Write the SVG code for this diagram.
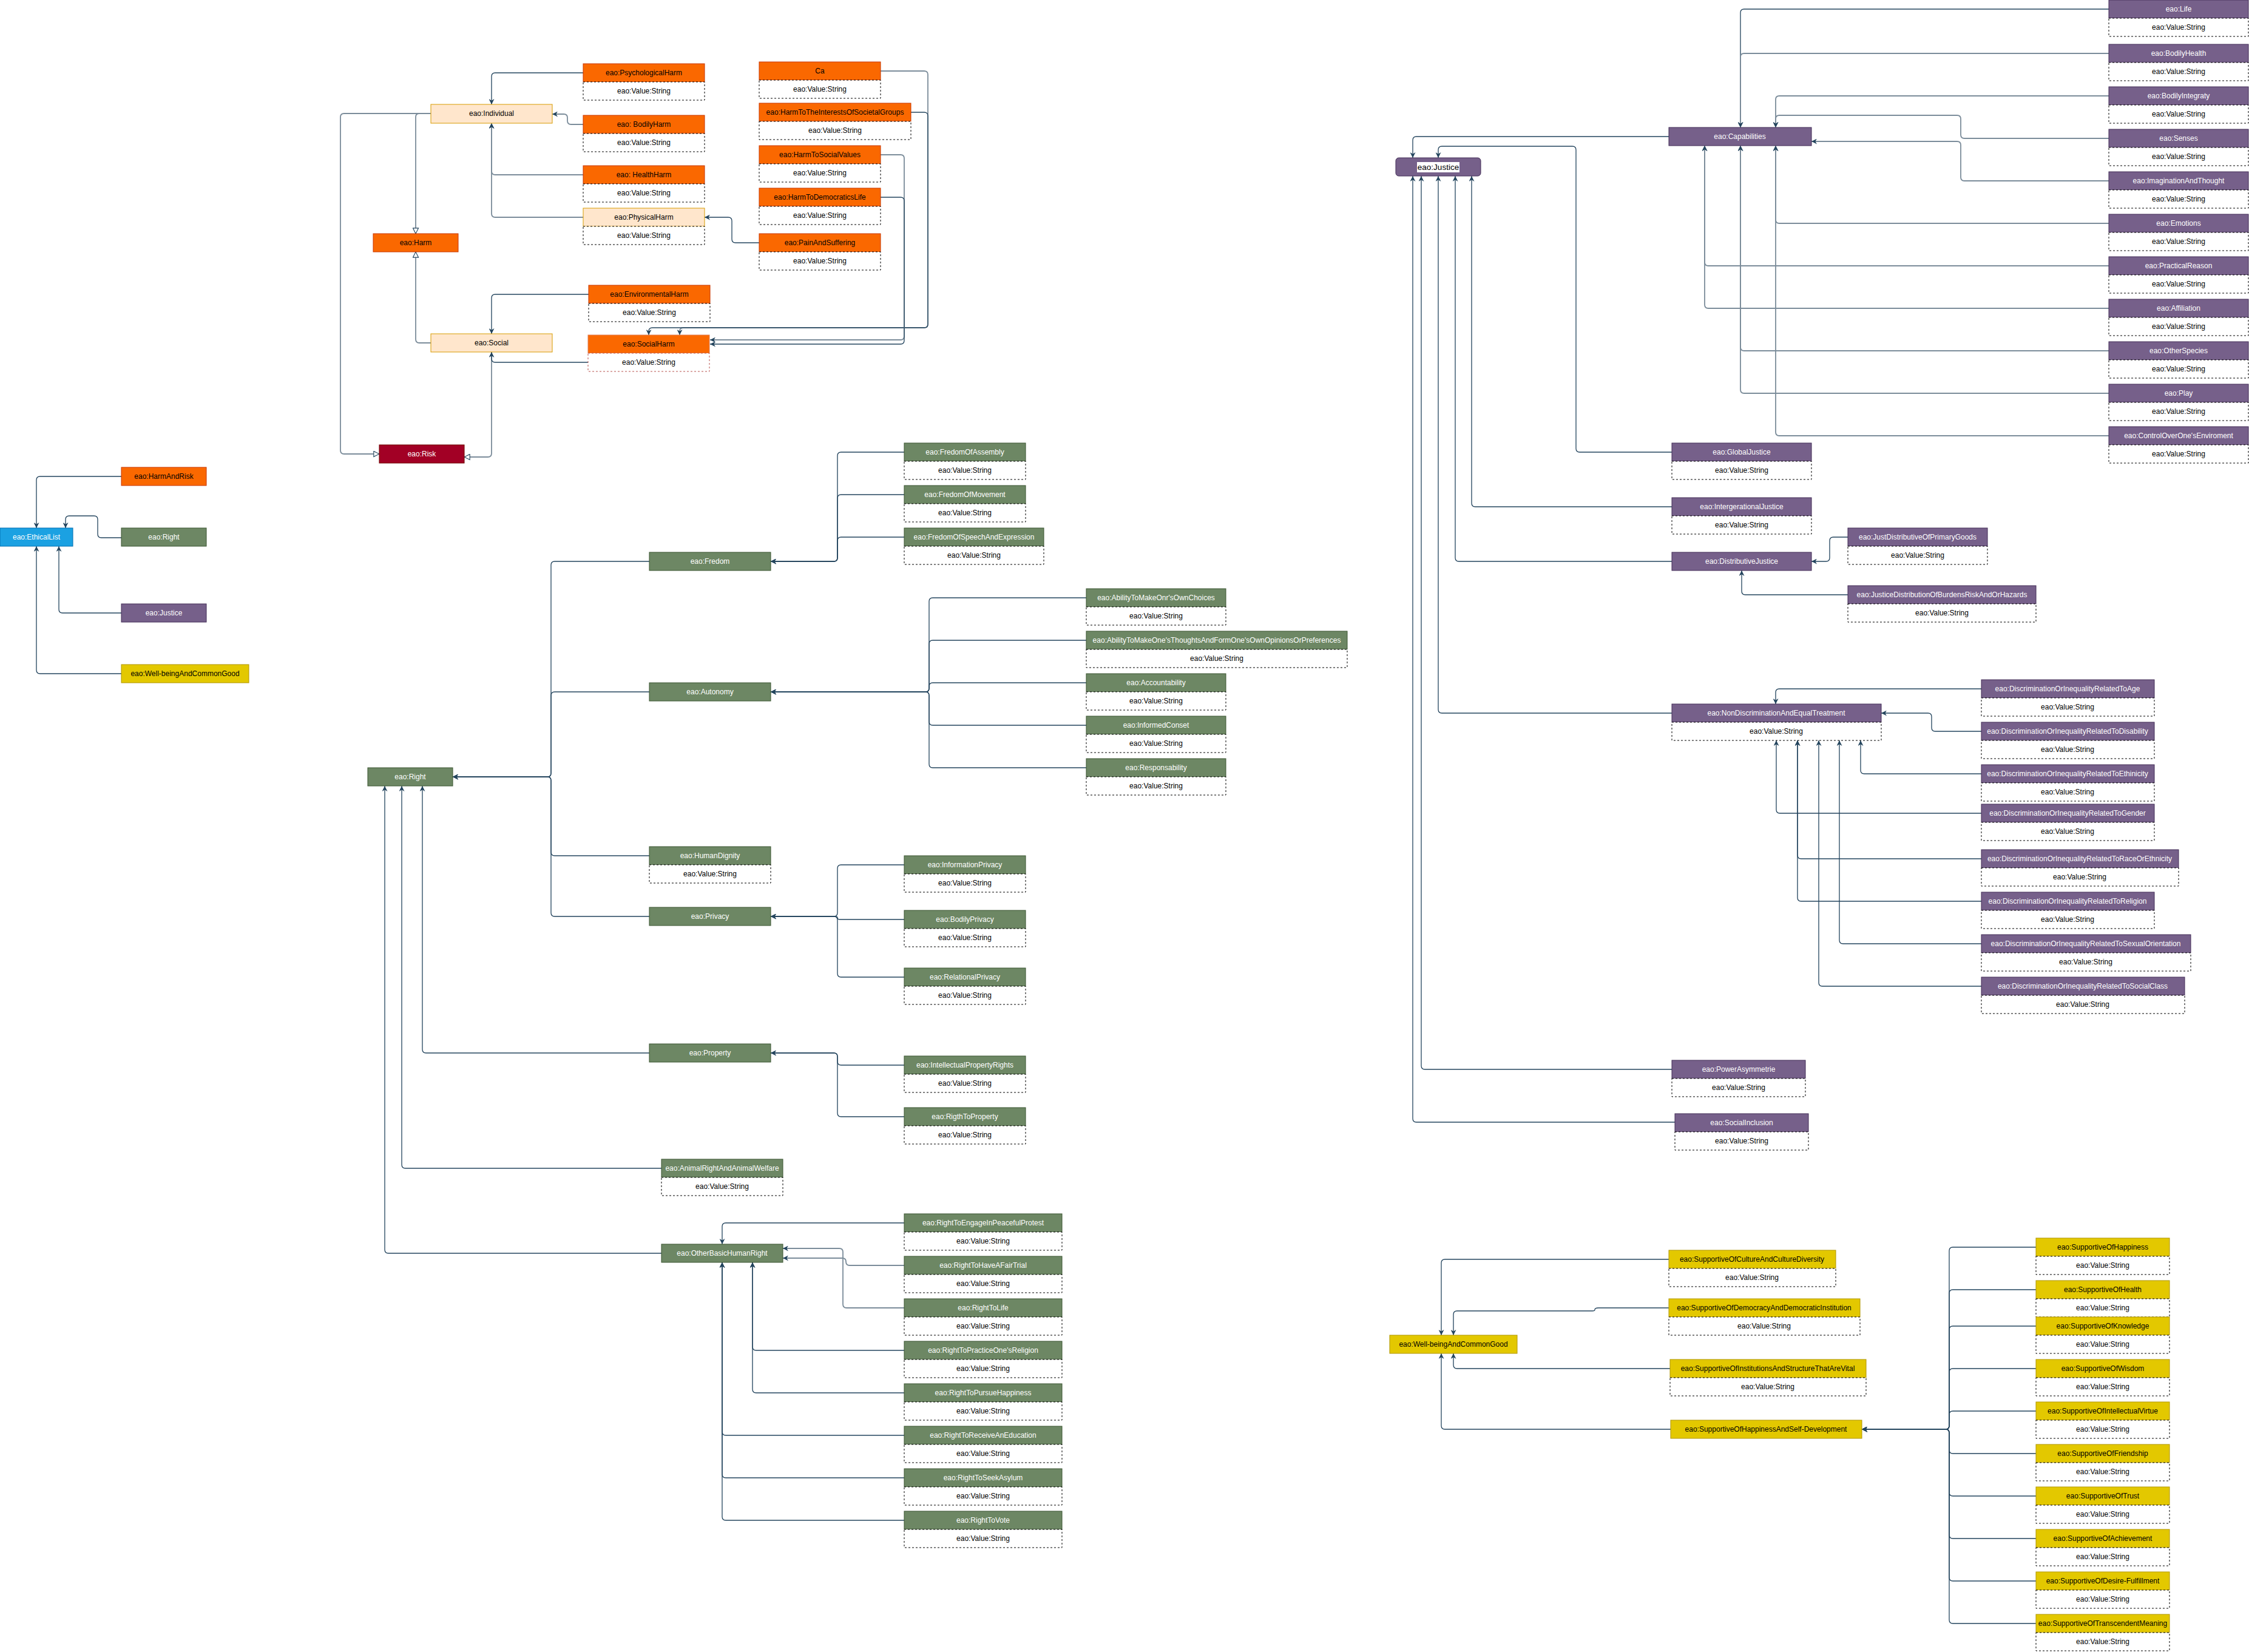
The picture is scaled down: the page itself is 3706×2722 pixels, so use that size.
<svg xmlns="http://www.w3.org/2000/svg" width="3706" height="2722" viewBox="0 0 3706 2722">
<style>
text{font-family:"Liberation Sans",Arial,sans-serif;font-size:12px;text-anchor:middle}
.tw{fill:#ffffff}.tb{fill:#000000}
.or{fill:#fa6800;stroke:#c73500}
.pe{fill:#ffe6cc;stroke:#d79b00}
.gr{fill:#6d8764;stroke:#3a5431}
.pu{fill:#76608a;stroke:#432d57}
.ye{fill:#e3c800;stroke:#b09500}
.bl{fill:#1ba1e2;stroke:#006eaf}
.rd{fill:#a20025;stroke:#6f0000}
.v{fill:#ffffff;stroke:#000000;stroke-dasharray:3 3}
.vr{fill:#ffffff;stroke:#b85450;stroke-dasharray:3 3}
.d{fill:none;stroke:#23445d;stroke-width:1.3;marker-end:url(#a)}
.l{fill:none;stroke:#7b8c9a;stroke-width:1.8;marker-end:url(#a)}
.dt{fill:none;stroke:#23445d;stroke-width:1.3;marker-end:url(#t)}
.lt{fill:none;stroke:#7b8c9a;stroke-width:1.8;marker-end:url(#t)}
</style>
<defs>
<marker id="a" viewBox="0 0 10 10" refX="10" refY="5" markerWidth="9" markerHeight="9" markerUnits="userSpaceOnUse" orient="auto"><path d="M0,0 L10,5 L0,10 L3,5 z" fill="#23445d"/></marker>
<marker id="t" viewBox="0 0 12 12" refX="11" refY="6" markerWidth="11" markerHeight="11" markerUnits="userSpaceOnUse" orient="auto"><path d="M1,1 L11,6 L1,11 z" fill="#ffffff" stroke="#23445d" stroke-width="1.2"/></marker>
</defs>
<rect width="3706" height="2722" fill="#ffffff"/>

<g id="connectors">
<!-- Harm cluster -->
<path class="d" d="M961,120 H816 Q810,120 810,126 V172"/>
<path class="l" d="M961,205 H941 Q935,205 935,199 V194 Q935,188 929,188 H910"/>
<path class="l" d="M961,288 H816 Q810,288 810,282 V203"/>
<path class="l" d="M961,358 H816 Q810,358 810,352 V203"/>
<path class="d" d="M1251,400 H1212 Q1206,400 1206,394 V364 Q1206,358 1200,358 H1161"/>
<path class="lt" d="M710,187 H691 Q685,187 685,193 V385"/>
<path class="lt" d="M710,565 H691 Q685,565 685,559 V415"/>
<path class="lt" d="M710,187 H567 Q561,187 561,193 V742 Q561,748 567,748 H625"/>
<path class="lt" d="M810,580 V747 Q810,753 804,753 H765"/>
<path class="d" d="M969,597 H816 Q810,597 810,591 V580"/>
<path class="d" d="M970,485 H816 Q810,485 810,491 V550"/>
<path class="l" d="M1451,117 H1523 Q1529,117 1529,123 V534 Q1529,540 1523,540 H1126 Q1120,540 1120,546 V552"/>
<path class="d" d="M1500,185 H1523 Q1529,185 1529,191 V534 Q1529,540 1523,540 H1075 Q1069,540 1069,546 V552"/>
<path class="l" d="M1451,255 H1484 Q1490,255 1490,261 V554 Q1490,560 1484,560 H1170"/>
<path class="d" d="M1451,325 H1484 Q1490,325 1490,331 V561 Q1490,567 1484,567 H1170"/>
<!-- EthicalList -->
<path class="d" d="M200,785 H66 Q60,785 60,791 V870"/>
<path class="d" d="M200,886 H167 Q161,886 161,880 V856 Q161,850 155,850 H114 Q108,850 108,856 V870"/>
<path class="d" d="M200,1010 H103 Q97,1010 97,1004 V900"/>
<path class="d" d="M200,1110 H66 Q60,1110 60,1104 V900"/>
<!-- Fredom -->
<path class="d" d="M1490,745 H1386 Q1380,745 1380,751 V919 Q1380,925 1374,925 H1270"/>
<path class="d" d="M1490,815 H1386 Q1380,815 1380,821 V919 Q1380,925 1374,925 H1270"/>
<path class="d" d="M1490,885 H1386 Q1380,885 1380,891 V919 Q1380,925 1374,925 H1270"/>
<!-- Autonomy -->
<path class="d" d="M1790,985 H1537 Q1531,985 1531,991 V1134 Q1531,1140 1525,1140 H1270"/>
<path class="d" d="M1790,1055 H1537 Q1531,1055 1531,1061 V1134 Q1531,1140 1525,1140 H1270"/>
<path class="d" d="M1790,1125 H1537 Q1531,1125 1531,1131 V1134 Q1531,1140 1525,1140 H1270"/>
<path class="d" d="M1790,1195 H1537 Q1531,1195 1531,1189 V1146 Q1531,1140 1525,1140 H1270"/>
<path class="d" d="M1790,1265 H1537 Q1531,1265 1531,1259 V1146 Q1531,1140 1525,1140 H1270"/>
<!-- Right children -->
<path class="d" d="M1070,925 H914 Q908,925 908,931 V1274 Q908,1280 902,1280 H746"/>
<path class="d" d="M1070,1140 H914 Q908,1140 908,1146 V1274 Q908,1280 902,1280 H746"/>
<path class="d" d="M1070,1410 H914 Q908,1410 908,1404 V1286 Q908,1280 902,1280 H746"/>
<path class="d" d="M1070,1510 H914 Q908,1510 908,1504 V1286 Q908,1280 902,1280 H746"/>
<path class="d" d="M1070,1735 H702 Q696,1735 696,1729 V1295"/>
<path class="d" d="M1090,1925 H668 Q662,1925 662,1919 V1295"/>
<path class="d" d="M1090,2065 H640 Q634,2065 634,2059 V1295"/>
<!-- Privacy -->
<path class="d" d="M1490,1425 H1386 Q1380,1425 1380,1431 V1504 Q1380,1510 1374,1510 H1270"/>
<path class="d" d="M1490,1515 H1384 Q1380,1515 1380,1512 Q1380,1510 1376,1510 H1270"/>
<path class="d" d="M1490,1610 H1386 Q1380,1610 1380,1604 V1516 Q1380,1510 1374,1510 H1270"/>
<!-- Property -->
<path class="d" d="M1490,1755 H1386 Q1380,1755 1380,1749 V1741 Q1380,1735 1374,1735 H1270"/>
<path class="d" d="M1490,1840 H1386 Q1380,1840 1380,1834 V1741 Q1380,1735 1374,1735 H1270"/>
<!-- OtherBasicHumanRight -->
<path class="d" d="M1490,2015 H1196 Q1190,2015 1190,2021 V2050"/>
<path class="l" d="M1490,2085 H1400 Q1394,2085 1394,2079 Q1394,2073 1388,2073 H1290"/>
<path class="l" d="M1490,2155 H1395 Q1389,2155 1389,2149 V2063 Q1389,2057 1383,2057 H1290"/>
<path class="d" d="M1490,2225 H1246 Q1240,2225 1240,2219 V2080"/>
<path class="d" d="M1490,2295 H1246 Q1240,2295 1240,2289 V2080"/>
<path class="d" d="M1490,2365 H1196 Q1190,2365 1190,2359 V2080"/>
<path class="d" d="M1490,2435 H1196 Q1190,2435 1190,2429 V2080"/>
<path class="d" d="M1490,2505 H1196 Q1190,2505 1190,2499 V2080"/>
<!-- Capabilities -->
<path class="d" d="M3475,15 H2874 Q2868,15 2868,21 V210"/>
<path class="l" d="M3475,88 H2874 Q2868,88 2868,94 V210"/>
<path class="l" d="M3475,158 H2932 Q2926,158 2926,164 V210"/>
<path class="l" d="M3475,228 H3237 Q3231,228 3231,222 V196 Q3231,190 3225,190 H2932 Q2926,190 2926,196 V210"/>
<path class="l" d="M3475,298 H3237 Q3231,298 3231,292 V239 Q3231,233 3225,233 H2985"/>
<path class="l" d="M3475,368 H2932 Q2926,368 2926,362 V240"/>
<path class="l" d="M3475,438 H2815 Q2809,438 2809,432 V240"/>
<path class="l" d="M3475,508 H2815 Q2809,508 2809,502 V240"/>
<path class="l" d="M3475,578 H2874 Q2868,578 2868,572 V240"/>
<path class="l" d="M3475,648 H2874 Q2868,648 2868,642 V240"/>
<path class="l" d="M3475,718 H2932 Q2926,718 2926,712 V240"/>
<!-- Justice -->
<path class="d" d="M2750,225 H2334 Q2328,225 2328,231 V260"/>
<path class="d" d="M2755,745 H2603 Q2597,745 2597,739 V247 Q2597,241 2591,241 H2376 Q2370,241 2370,247 V260"/>
<path class="d" d="M2755,835 H2431 Q2425,835 2425,829 V290"/>
<path class="d" d="M2755,925 H2404 Q2398,925 2398,919 V290"/>
<path class="d" d="M2755,1175 H2376 Q2370,1175 2370,1169 V290"/>
<path class="d" d="M2755,1762 H2348 Q2342,1762 2342,1756 V290"/>
<path class="d" d="M2760,1849 H2334 Q2328,1849 2328,1843 V290"/>
<path class="d" d="M3045,885 H3021 Q3015,885 3015,891 V919 Q3015,925 3009,925 H2985"/>
<path class="d" d="M3045,980 H2876 Q2870,980 2870,974 V940"/>
<!-- NonDiscrimination -->
<path class="d" d="M3265,1135 H2932 Q2926,1135 2926,1141 V1160"/>
<path class="d" d="M3265,1205 H3189 Q3183,1205 3183,1199 V1181 Q3183,1175 3177,1175 H3100"/>
<path class="d" d="M3265,1275 H3072 Q3066,1275 3066,1269 V1220"/>
<path class="d" d="M3265,1340 H2933 Q2927,1340 2927,1334 V1220"/>
<path class="d" d="M3265,1415 H2968 Q2962,1415 2962,1409 V1220"/>
<path class="d" d="M3265,1485 H2968 Q2962,1485 2962,1479 V1220"/>
<path class="d" d="M3265,1555 H3037 Q3031,1555 3031,1549 V1220"/>
<path class="d" d="M3265,1625 H3003 Q2997,1625 2997,1619 V1220"/>
<!-- Wellbeing -->
<path class="d" d="M2750,2075 H2381 Q2375,2075 2375,2081 V2200"/>
<path class="d" d="M2750,2155 H2634 Q2628,2155 2628,2158 Q2628,2160 2624,2160 H2401 Q2395,2160 2395,2166 V2200"/>
<path class="d" d="M2752,2255 H2401 Q2395,2255 2395,2249 V2230"/>
<path class="d" d="M2753,2355 H2381 Q2375,2355 2375,2349 V2230"/>
<path class="d" d="M3355,2055 H3218 Q3212,2055 3212,2061 V2349 Q3212,2355 3206,2355 H3068"/>
<path class="d" d="M3355,2125 H3218 Q3212,2125 3212,2131 V2349 Q3212,2355 3206,2355 H3068"/>
<path class="d" d="M3355,2185 H3218 Q3212,2185 3212,2191 V2349 Q3212,2355 3206,2355 H3068"/>
<path class="d" d="M3355,2255 H3218 Q3212,2255 3212,2261 V2349 Q3212,2355 3206,2355 H3068"/>
<path class="d" d="M3355,2325 H3218 Q3212,2325 3212,2331 V2349 Q3212,2355 3206,2355 H3068"/>
<path class="d" d="M3355,2395 H3218 Q3212,2395 3212,2389 V2361 Q3212,2355 3206,2355 H3068"/>
<path class="d" d="M3355,2465 H3218 Q3212,2465 3212,2459 V2361 Q3212,2355 3206,2355 H3068"/>
<path class="d" d="M3355,2535 H3218 Q3212,2535 3212,2529 V2361 Q3212,2355 3206,2355 H3068"/>
<path class="d" d="M3355,2605 H3218 Q3212,2605 3212,2599 V2361 Q3212,2355 3206,2355 H3068"/>
<path class="d" d="M3355,2675 H3218 Q3212,2675 3212,2669 V2361 Q3212,2355 3206,2355 H3068"/>
</g>

<!-- Harm cluster nodes -->
<g id="n-psychologicalharm"><rect class="or" x="961" y="105" width="200" height="30"/><text class="tb" x="1061" y="124">eao:PsychologicalHarm</text><rect class="v" x="961" y="135" width="200" height="30"/><text class="tb" x="1061" y="154">eao:Value:String</text></g>
<g id="n-individual"><rect class="pe" x="710" y="172" width="200" height="31"/><text class="tb" x="810" y="191">eao:Individual</text></g>
<g id="n-bodilyharm"><rect class="or" x="961" y="190" width="200" height="30"/><text class="tb" x="1061" y="209">eao: BodilyHarm</text><rect class="v" x="961" y="220" width="200" height="30"/><text class="tb" x="1061" y="239">eao:Value:String</text></g>
<g id="n-healthharm"><rect class="or" x="961" y="273" width="200" height="30"/><text class="tb" x="1061" y="292">eao: HealthHarm</text><rect class="v" x="961" y="303" width="200" height="30"/><text class="tb" x="1061" y="322">eao:Value:String</text></g>
<g id="n-physicalharm"><rect class="pe" x="961" y="343" width="200" height="30"/><text class="tb" x="1061" y="362">eao:PhysicalHarm</text><rect class="v" x="961" y="373" width="200" height="30"/><text class="tb" x="1061" y="392">eao:Value:String</text></g>
<g id="n-ca"><rect class="or" x="1251" y="102" width="200" height="30"/><text class="tb" x="1351" y="121">Ca</text><rect class="v" x="1251" y="132" width="200" height="30"/><text class="tb" x="1351" y="151">eao:Value:String</text></g>
<g id="n-harmtotheinterestsofsocietalgroups"><rect class="or" x="1251" y="170" width="250" height="30"/><text class="tb" x="1376" y="189">eao:HarmToTheInterestsOfSocietalGroups</text><rect class="v" x="1251" y="200" width="250" height="30"/><text class="tb" x="1376" y="219">eao:Value:String</text></g>
<g id="n-harmtosocialvalues"><rect class="or" x="1251" y="240" width="200" height="30"/><text class="tb" x="1351" y="259">eao:HarmToSocialValues</text><rect class="v" x="1251" y="270" width="200" height="30"/><text class="tb" x="1351" y="289">eao:Value:String</text></g>
<g id="n-harmtodemocraticslife"><rect class="or" x="1251" y="310" width="200" height="30"/><text class="tb" x="1351" y="329">eao:HarmToDemocraticsLife</text><rect class="v" x="1251" y="340" width="200" height="30"/><text class="tb" x="1351" y="359">eao:Value:String</text></g>
<g id="n-painandsuffering"><rect class="or" x="1251" y="385" width="200" height="30"/><text class="tb" x="1351" y="404">eao:PainAndSuffering</text><rect class="v" x="1251" y="415" width="200" height="30"/><text class="tb" x="1351" y="434">eao:Value:String</text></g>
<g id="n-harm"><rect class="or" x="615" y="385" width="140" height="30"/><text class="tb" x="685" y="404">eao:Harm</text></g>
<g id="n-environmentalharm"><rect class="or" x="970" y="470" width="200" height="30"/><text class="tb" x="1070" y="489">eao:EnvironmentalHarm</text><rect class="v" x="970" y="500" width="200" height="30"/><text class="tb" x="1070" y="519">eao:Value:String</text></g>
<g id="n-social"><rect class="pe" x="710" y="550" width="200" height="30"/><text class="tb" x="810" y="569">eao:Social</text></g>
<g id="n-socialharm"><rect class="or" x="969" y="552" width="200" height="30" style="stroke:#e07a50"/><text class="tb" x="1069" y="571">eao:SocialHarm</text><rect class="vr" x="969" y="582" width="200" height="30"/><text class="tb" x="1069" y="601">eao:Value:String</text></g>
<g id="n-risk"><rect class="rd" x="625" y="733" width="140" height="30"/><text class="tw" x="695" y="752">eao:Risk</text></g>

<!-- EthicalList -->
<g id="n-ethicallist"><rect class="bl" x="0" y="870" width="120" height="30"/><text class="tw" x="60" y="889">eao:EthicalList</text></g>
<g id="n-harmandrisk"><rect class="or" x="200" y="770" width="140" height="30"/><text class="tb" x="270" y="789">eao:HarmAndRisk</text></g>
<g id="n-right-list"><rect class="gr" x="200" y="870" width="140" height="30"/><text class="tw" x="270" y="889">eao:Right</text></g>
<g id="n-justice-list"><rect class="pu" x="200" y="995" width="140" height="30"/><text class="tw" x="270" y="1014">eao:Justice</text></g>
<g id="n-wellbeing-list"><rect class="ye" x="200" y="1095" width="210" height="30"/><text class="tb" x="305" y="1114">eao:Well-beingAndCommonGood</text></g>

<!-- Right cluster -->
<g id="n-right"><rect class="gr" x="606" y="1265" width="140" height="30"/><text class="tw" x="676" y="1284">eao:Right</text></g>
<g id="n-fredom"><rect class="gr" x="1070" y="910" width="200" height="30"/><text class="tw" x="1170" y="929">eao:Fredom</text></g>
<g id="n-fredomofassembly"><rect class="gr" x="1490" y="730" width="200" height="30"/><text class="tw" x="1590" y="749">eao:FredomOfAssembly</text><rect class="v" x="1490" y="760" width="200" height="30"/><text class="tb" x="1590" y="779">eao:Value:String</text></g>
<g id="n-fredomofmovement"><rect class="gr" x="1490" y="800" width="200" height="30"/><text class="tw" x="1590" y="819">eao:FredomOfMovement</text><rect class="v" x="1490" y="830" width="200" height="30"/><text class="tb" x="1590" y="849">eao:Value:String</text></g>
<g id="n-fredomofspeech"><rect class="gr" x="1490" y="870" width="230" height="30"/><text class="tw" x="1605" y="889">eao:FredomOfSpeechAndExpression</text><rect class="v" x="1490" y="900" width="230" height="30"/><text class="tb" x="1605" y="919">eao:Value:String</text></g>
<g id="n-autonomy"><rect class="gr" x="1070" y="1125" width="200" height="30"/><text class="tw" x="1170" y="1144">eao:Autonomy</text></g>
<g id="n-choices"><rect class="gr" x="1790" y="970" width="230" height="30"/><text class="tw" x="1905" y="989">eao:AbilityToMakeOnr'sOwnChoices</text><rect class="v" x="1790" y="1000" width="230" height="30"/><text class="tb" x="1905" y="1019">eao:Value:String</text></g>
<g id="n-thoughts"><rect class="gr" x="1790" y="1040" width="430" height="30"/><text class="tw" x="2005" y="1059">eao:AbilityToMakeOne'sThoughtsAndFormOne'sOwnOpinionsOrPreferences</text><rect class="v" x="1790" y="1070" width="430" height="30"/><text class="tb" x="2005" y="1089">eao:Value:String</text></g>
<g id="n-accountability"><rect class="gr" x="1790" y="1110" width="230" height="30"/><text class="tw" x="1905" y="1129">eao:Accountability</text><rect class="v" x="1790" y="1140" width="230" height="30"/><text class="tb" x="1905" y="1159">eao:Value:String</text></g>
<g id="n-informedconset"><rect class="gr" x="1790" y="1180" width="230" height="30"/><text class="tw" x="1905" y="1199">eao:InformedConset</text><rect class="v" x="1790" y="1210" width="230" height="30"/><text class="tb" x="1905" y="1229">eao:Value:String</text></g>
<g id="n-responsability"><rect class="gr" x="1790" y="1250" width="230" height="30"/><text class="tw" x="1905" y="1269">eao:Responsability</text><rect class="v" x="1790" y="1280" width="230" height="30"/><text class="tb" x="1905" y="1299">eao:Value:String</text></g>
<g id="n-humandignity"><rect class="gr" x="1070" y="1395" width="200" height="30"/><text class="tw" x="1170" y="1414">eao:HumanDignity</text><rect class="v" x="1070" y="1425" width="200" height="30"/><text class="tb" x="1170" y="1444">eao:Value:String</text></g>
<g id="n-privacy"><rect class="gr" x="1070" y="1495" width="200" height="30"/><text class="tw" x="1170" y="1514">eao:Privacy</text></g>
<g id="n-informationprivacy"><rect class="gr" x="1490" y="1410" width="200" height="30"/><text class="tw" x="1590" y="1429">eao:InformationPrivacy</text><rect class="v" x="1490" y="1440" width="200" height="30"/><text class="tb" x="1590" y="1459">eao:Value:String</text></g>
<g id="n-bodilyprivacy"><rect class="gr" x="1490" y="1500" width="200" height="30"/><text class="tw" x="1590" y="1519">eao:BodilyPrivacy</text><rect class="v" x="1490" y="1530" width="200" height="30"/><text class="tb" x="1590" y="1549">eao:Value:String</text></g>
<g id="n-relationalprivacy"><rect class="gr" x="1490" y="1595" width="200" height="30"/><text class="tw" x="1590" y="1614">eao:RelationalPrivacy</text><rect class="v" x="1490" y="1625" width="200" height="30"/><text class="tb" x="1590" y="1644">eao:Value:String</text></g>
<g id="n-property"><rect class="gr" x="1070" y="1720" width="200" height="30"/><text class="tw" x="1170" y="1739">eao:Property</text></g>
<g id="n-intellectualpropertyrights"><rect class="gr" x="1490" y="1740" width="200" height="30"/><text class="tw" x="1590" y="1759">eao:IntellectualPropertyRights</text><rect class="v" x="1490" y="1770" width="200" height="30"/><text class="tb" x="1590" y="1789">eao:Value:String</text></g>
<g id="n-rigthtoproperty"><rect class="gr" x="1490" y="1825" width="200" height="30"/><text class="tw" x="1590" y="1844">eao:RigthToProperty</text><rect class="v" x="1490" y="1855" width="200" height="30"/><text class="tb" x="1590" y="1874">eao:Value:String</text></g>
<g id="n-animalright"><rect class="gr" x="1090" y="1910" width="200" height="30"/><text class="tw" x="1190" y="1929">eao:AnimalRightAndAnimalWelfare</text><rect class="v" x="1090" y="1940" width="200" height="30"/><text class="tb" x="1190" y="1959">eao:Value:String</text></g>
<g id="n-otherbasichumanright"><rect class="gr" x="1090" y="2050" width="200" height="30"/><text class="tw" x="1190" y="2069">eao:OtherBasicHumanRight</text></g>
<g id="n-peacefulprotest"><rect class="gr" x="1490" y="2000" width="260" height="30"/><text class="tw" x="1620" y="2019">eao:RightToEngageInPeacefulProtest</text><rect class="v" x="1490" y="2030" width="260" height="30"/><text class="tb" x="1620" y="2049">eao:Value:String</text></g>
<g id="n-fairtrial"><rect class="gr" x="1490" y="2070" width="260" height="30"/><text class="tw" x="1620" y="2089">eao:RightToHaveAFairTrial</text><rect class="v" x="1490" y="2100" width="260" height="30"/><text class="tb" x="1620" y="2119">eao:Value:String</text></g>
<g id="n-righttolife"><rect class="gr" x="1490" y="2140" width="260" height="30"/><text class="tw" x="1620" y="2159">eao:RightToLife</text><rect class="v" x="1490" y="2170" width="260" height="30"/><text class="tb" x="1620" y="2189">eao:Value:String</text></g>
<g id="n-religion"><rect class="gr" x="1490" y="2210" width="260" height="30"/><text class="tw" x="1620" y="2229">eao:RightToPracticeOne'sReligion</text><rect class="v" x="1490" y="2240" width="260" height="30"/><text class="tb" x="1620" y="2259">eao:Value:String</text></g>
<g id="n-pursuehappiness"><rect class="gr" x="1490" y="2280" width="260" height="30"/><text class="tw" x="1620" y="2299">eao:RightToPursueHappiness</text><rect class="v" x="1490" y="2310" width="260" height="30"/><text class="tb" x="1620" y="2329">eao:Value:String</text></g>
<g id="n-education"><rect class="gr" x="1490" y="2350" width="260" height="30"/><text class="tw" x="1620" y="2369">eao:RightToReceiveAnEducation</text><rect class="v" x="1490" y="2380" width="260" height="30"/><text class="tb" x="1620" y="2399">eao:Value:String</text></g>
<g id="n-asylum"><rect class="gr" x="1490" y="2420" width="260" height="30"/><text class="tw" x="1620" y="2439">eao:RightToSeekAsylum</text><rect class="v" x="1490" y="2450" width="260" height="30"/><text class="tb" x="1620" y="2469">eao:Value:String</text></g>
<g id="n-vote"><rect class="gr" x="1490" y="2490" width="260" height="30"/><text class="tw" x="1620" y="2509">eao:RightToVote</text><rect class="v" x="1490" y="2520" width="260" height="30"/><text class="tb" x="1620" y="2539">eao:Value:String</text></g>

<!-- Justice cluster -->
<g id="n-justice"><rect class="pu" x="2300" y="260" width="140" height="30" rx="5"/><rect x="2335" y="267" width="70" height="17" fill="#ffffff"/><text class="tb" x="2370" y="280" style="font-size:13.5px">eao:Justice</text></g>
<g id="n-capabilities"><rect class="pu" x="2750" y="210" width="235" height="30"/><text class="tw" x="2867" y="229">eao:Capabilities</text></g>
<g id="n-life"><rect class="pu" x="3475" y="0" width="230" height="30"/><text class="tw" x="3590" y="19">eao:Life</text><rect class="v" x="3475" y="30" width="230" height="30"/><text class="tb" x="3590" y="49">eao:Value:String</text></g>
<g id="n-bodilyhealth"><rect class="pu" x="3475" y="73" width="230" height="30"/><text class="tw" x="3590" y="92">eao:BodilyHealth</text><rect class="v" x="3475" y="103" width="230" height="30"/><text class="tb" x="3590" y="122">eao:Value:String</text></g>
<g id="n-bodilyintegraty"><rect class="pu" x="3475" y="143" width="230" height="30"/><text class="tw" x="3590" y="162">eao:BodilyIntegraty</text><rect class="v" x="3475" y="173" width="230" height="30"/><text class="tb" x="3590" y="192">eao:Value:String</text></g>
<g id="n-senses"><rect class="pu" x="3475" y="213" width="230" height="30"/><text class="tw" x="3590" y="232">eao:Senses</text><rect class="v" x="3475" y="243" width="230" height="30"/><text class="tb" x="3590" y="262">eao:Value:String</text></g>
<g id="n-imagination"><rect class="pu" x="3475" y="283" width="230" height="30"/><text class="tw" x="3590" y="302">eao:ImaginationAndThought</text><rect class="v" x="3475" y="313" width="230" height="30"/><text class="tb" x="3590" y="332">eao:Value:String</text></g>
<g id="n-emotions"><rect class="pu" x="3475" y="353" width="230" height="30"/><text class="tw" x="3590" y="372">eao:Emotions</text><rect class="v" x="3475" y="383" width="230" height="30"/><text class="tb" x="3590" y="402">eao:Value:String</text></g>
<g id="n-practicalreason"><rect class="pu" x="3475" y="423" width="230" height="30"/><text class="tw" x="3590" y="442">eao:PracticalReason</text><rect class="v" x="3475" y="453" width="230" height="30"/><text class="tb" x="3590" y="472">eao:Value:String</text></g>
<g id="n-affiliation"><rect class="pu" x="3475" y="493" width="230" height="30"/><text class="tw" x="3590" y="512">eao:Affiliation</text><rect class="v" x="3475" y="523" width="230" height="30"/><text class="tb" x="3590" y="542">eao:Value:String</text></g>
<g id="n-otherspecies"><rect class="pu" x="3475" y="563" width="230" height="30"/><text class="tw" x="3590" y="582">eao:OtherSpecies</text><rect class="v" x="3475" y="593" width="230" height="30"/><text class="tb" x="3590" y="612">eao:Value:String</text></g>
<g id="n-play"><rect class="pu" x="3475" y="633" width="230" height="30"/><text class="tw" x="3590" y="652">eao:Play</text><rect class="v" x="3475" y="663" width="230" height="30"/><text class="tb" x="3590" y="682">eao:Value:String</text></g>
<g id="n-control"><rect class="pu" x="3475" y="703" width="230" height="30"/><text class="tw" x="3590" y="722">eao:ControlOverOne'sEnviroment</text><rect class="v" x="3475" y="733" width="230" height="30"/><text class="tb" x="3590" y="752">eao:Value:String</text></g>
<g id="n-globaljustice"><rect class="pu" x="2755" y="730" width="230" height="30"/><text class="tw" x="2870" y="749">eao:GlobalJustice</text><rect class="v" x="2755" y="760" width="230" height="30"/><text class="tb" x="2870" y="779">eao:Value:String</text></g>
<g id="n-intergenerational"><rect class="pu" x="2755" y="820" width="230" height="30"/><text class="tw" x="2870" y="839">eao:IntergerationalJustice</text><rect class="v" x="2755" y="850" width="230" height="30"/><text class="tb" x="2870" y="869">eao:Value:String</text></g>
<g id="n-distributive"><rect class="pu" x="2755" y="910" width="230" height="30"/><text class="tw" x="2870" y="929">eao:DistributiveJustice</text></g>
<g id="n-justdistributive"><rect class="pu" x="3045" y="870" width="230" height="30"/><text class="tw" x="3160" y="889">eao:JustDistributiveOfPrimaryGoods</text><rect class="v" x="3045" y="900" width="230" height="30"/><text class="tb" x="3160" y="919">eao:Value:String</text></g>
<g id="n-burdens"><rect class="pu" x="3045" y="965" width="310" height="30"/><text class="tw" x="3200" y="984">eao:JusticeDistributionOfBurdensRiskAndOrHazards</text><rect class="v" x="3045" y="995" width="310" height="30"/><text class="tb" x="3200" y="1014">eao:Value:String</text></g>
<g id="n-nondiscrimination"><rect class="pu" x="2755" y="1160" width="345" height="30"/><text class="tw" x="2927" y="1179">eao:NonDiscriminationAndEqualTreatment</text><rect class="v" x="2755" y="1190" width="345" height="30"/><text class="tb" x="2927" y="1209">eao:Value:String</text></g>
<g id="n-age"><rect class="pu" x="3265" y="1120" width="285" height="30"/><text class="tw" x="3407" y="1139">eao:DiscriminationOrInequalityRelatedToAge</text><rect class="v" x="3265" y="1150" width="285" height="30"/><text class="tb" x="3407" y="1169">eao:Value:String</text></g>
<g id="n-disability"><rect class="pu" x="3265" y="1190" width="285" height="30"/><text class="tw" x="3407" y="1209">eao:DiscriminationOrInequalityRelatedToDisability</text><rect class="v" x="3265" y="1220" width="285" height="30"/><text class="tb" x="3407" y="1239">eao:Value:String</text></g>
<g id="n-ethinicity"><rect class="pu" x="3265" y="1260" width="285" height="30"/><text class="tw" x="3407" y="1279">eao:DiscriminationOrInequalityRelatedToEthinicity</text><rect class="v" x="3265" y="1290" width="285" height="30"/><text class="tb" x="3407" y="1309">eao:Value:String</text></g>
<g id="n-gender"><rect class="pu" x="3265" y="1325" width="285" height="30"/><text class="tw" x="3407" y="1344">eao:DiscriminationOrInequalityRelatedToGender</text><rect class="v" x="3265" y="1355" width="285" height="30"/><text class="tb" x="3407" y="1374">eao:Value:String</text></g>
<g id="n-race"><rect class="pu" x="3265" y="1400" width="325" height="30"/><text class="tw" x="3427" y="1419">eao:DiscriminationOrInequalityRelatedToRaceOrEthnicity</text><rect class="v" x="3265" y="1430" width="325" height="30"/><text class="tb" x="3427" y="1449">eao:Value:String</text></g>
<g id="n-religion-discr"><rect class="pu" x="3265" y="1470" width="285" height="30"/><text class="tw" x="3407" y="1489">eao:DiscriminationOrInequalityRelatedToReligion</text><rect class="v" x="3265" y="1500" width="285" height="30"/><text class="tb" x="3407" y="1519">eao:Value:String</text></g>
<g id="n-sexualorientation"><rect class="pu" x="3265" y="1540" width="345" height="30"/><text class="tw" x="3437" y="1559">eao:DiscriminationOrInequalityRelatedToSexualOrientation</text><rect class="v" x="3265" y="1570" width="345" height="30"/><text class="tb" x="3437" y="1589">eao:Value:String</text></g>
<g id="n-socialclass"><rect class="pu" x="3265" y="1610" width="335" height="30"/><text class="tw" x="3432" y="1629">eao:DiscriminationOrInequalityRelatedToSocialClass</text><rect class="v" x="3265" y="1640" width="335" height="30"/><text class="tb" x="3432" y="1659">eao:Value:String</text></g>
<g id="n-powerasymmetrie"><rect class="pu" x="2755" y="1747" width="220" height="30"/><text class="tw" x="2865" y="1766">eao:PowerAsymmetrie</text><rect class="v" x="2755" y="1777" width="220" height="30"/><text class="tb" x="2865" y="1796">eao:Value:String</text></g>
<g id="n-socialinclusion"><rect class="pu" x="2760" y="1835" width="220" height="30"/><text class="tw" x="2870" y="1854">eao:SocialInclusion</text><rect class="v" x="2760" y="1865" width="220" height="30"/><text class="tb" x="2870" y="1884">eao:Value:String</text></g>

<!-- Wellbeing cluster -->
<g id="n-wellbeing"><rect class="ye" x="2290" y="2200" width="210" height="30"/><text class="tb" x="2395" y="2219">eao:Well-beingAndCommonGood</text></g>
<g id="n-culture"><rect class="ye" x="2750" y="2060" width="275" height="30"/><text class="tb" x="2887" y="2079">eao:SupportiveOfCultureAndCultureDiversity</text><rect class="v" x="2750" y="2090" width="275" height="30"/><text class="tb" x="2887" y="2109">eao:Value:String</text></g>
<g id="n-democracy"><rect class="ye" x="2750" y="2140" width="315" height="30"/><text class="tb" x="2907" y="2159">eao:SupportiveOfDemocracyAndDemocraticInstitution</text><rect class="v" x="2750" y="2170" width="315" height="30"/><text class="tb" x="2907" y="2189">eao:Value:String</text></g>
<g id="n-institutions"><rect class="ye" x="2752" y="2240" width="323" height="30"/><text class="tb" x="2913" y="2259">eao:SupportiveOfInstitutionsAndStructureThatAreVital</text><rect class="v" x="2752" y="2270" width="323" height="30"/><text class="tb" x="2913" y="2289">eao:Value:String</text></g>
<g id="n-happinessselfdev"><rect class="ye" x="2753" y="2340" width="315" height="30"/><text class="tb" x="2910" y="2359">eao:SupportiveOfHappinessAndSelf-Development</text></g>
<g id="n-s-happiness"><rect class="ye" x="3355" y="2040" width="220" height="30"/><text class="tb" x="3465" y="2059">eao:SupportiveOfHappiness</text><rect class="v" x="3355" y="2070" width="220" height="30"/><text class="tb" x="3465" y="2089">eao:Value:String</text></g>
<g id="n-s-health"><rect class="ye" x="3355" y="2110" width="220" height="30"/><text class="tb" x="3465" y="2129">eao:SupportiveOfHealth</text><rect class="v" x="3355" y="2140" width="220" height="30"/><text class="tb" x="3465" y="2159">eao:Value:String</text></g>
<g id="n-s-knowledge"><rect class="ye" x="3355" y="2170" width="220" height="30"/><text class="tb" x="3465" y="2189">eao:SupportiveOfKnowledge</text><rect class="v" x="3355" y="2200" width="220" height="30"/><text class="tb" x="3465" y="2219">eao:Value:String</text></g>
<g id="n-s-wisdom"><rect class="ye" x="3355" y="2240" width="220" height="30"/><text class="tb" x="3465" y="2259">eao:SupportiveOfWisdom</text><rect class="v" x="3355" y="2270" width="220" height="30"/><text class="tb" x="3465" y="2289">eao:Value:String</text></g>
<g id="n-s-intellectualvirtue"><rect class="ye" x="3355" y="2310" width="220" height="30"/><text class="tb" x="3465" y="2329">eao:SupportiveOfIntellectualVirtue</text><rect class="v" x="3355" y="2340" width="220" height="30"/><text class="tb" x="3465" y="2359">eao:Value:String</text></g>
<g id="n-s-friendship"><rect class="ye" x="3355" y="2380" width="220" height="30"/><text class="tb" x="3465" y="2399">eao:SupportiveOfFriendship</text><rect class="v" x="3355" y="2410" width="220" height="30"/><text class="tb" x="3465" y="2429">eao:Value:String</text></g>
<g id="n-s-trust"><rect class="ye" x="3355" y="2450" width="220" height="30"/><text class="tb" x="3465" y="2469">eao:SupportiveOfTrust</text><rect class="v" x="3355" y="2480" width="220" height="30"/><text class="tb" x="3465" y="2499">eao:Value:String</text></g>
<g id="n-s-achievement"><rect class="ye" x="3355" y="2520" width="220" height="30"/><text class="tb" x="3465" y="2539">eao:SupportiveOfAchievement</text><rect class="v" x="3355" y="2550" width="220" height="30"/><text class="tb" x="3465" y="2569">eao:Value:String</text></g>
<g id="n-s-desire"><rect class="ye" x="3355" y="2590" width="220" height="30"/><text class="tb" x="3465" y="2609">eao:SupportiveOfDesire-Fulfillment</text><rect class="v" x="3355" y="2620" width="220" height="30"/><text class="tb" x="3465" y="2639">eao:Value:String</text></g>
<g id="n-s-transcendent"><rect class="ye" x="3355" y="2660" width="220" height="30"/><text class="tb" x="3465" y="2679">eao:SupportiveOfTranscendentMeaning</text><rect class="v" x="3355" y="2690" width="220" height="30"/><text class="tb" x="3465" y="2709">eao:Value:String</text></g>
</svg>
